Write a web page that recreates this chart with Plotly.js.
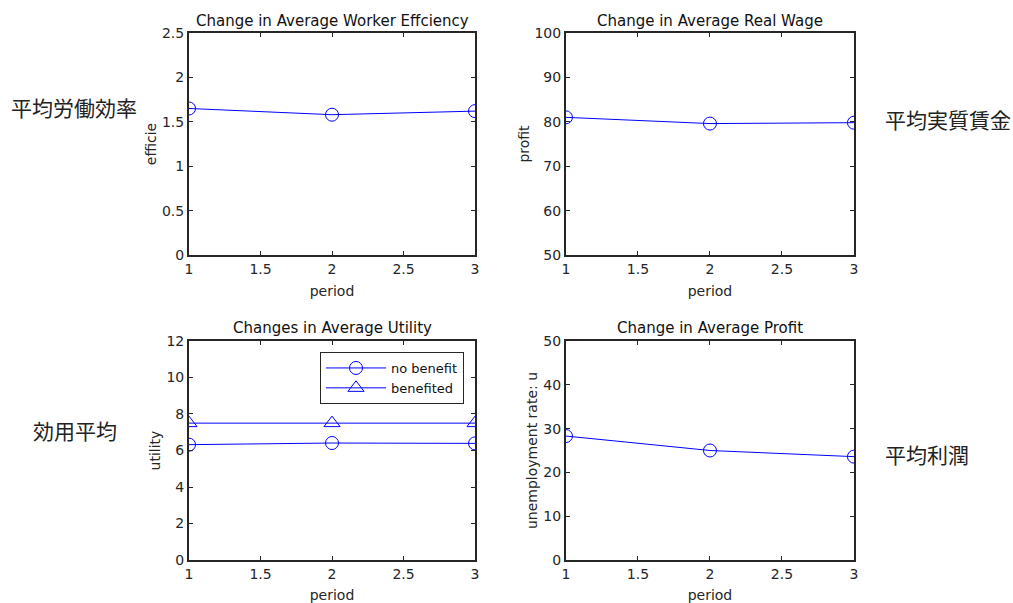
<!DOCTYPE html>
<html><head><meta charset="utf-8">
<script src="https://cdn.plot.ly/plotly-3.0.1.min.js"></script>
<style>html,body{margin:0;padding:0;background:#fff}#chart{width:1013px;height:603px}</style>
</head><body><div id="chart"></div>
<script>
const periods = [1, 2, 3];
const efficiency = [1.65, 1.58, 1.62];
const realWage = [81.0, 79.6, 79.8];
const utilityNoBenefit = [6.32, 6.41, 6.39];
const utilityBenefited = [7.5, 7.5, 7.5];
const profit = [28.3, 25.0, 23.6];

const titles = ["Change in Average Worker Effciency", "Change in Average Real Wage", "Changes in Average Utility", "Change in Average Profit"];
const yTitles = ["efficie", "profit", "utility", "unemployment rate: u"];
const xTitle = "period";
const legendNames = ["no benefit", "benefited"];
const sideLabels = ["平均労働効率", "平均実質賃金", "効用平均", "平均利潤"];

const blue = '#0000ff';
const font = "'DejaVu Sans', 'Noto Sans', sans-serif";
const cjk = "'Noto Sans CJK JP', sans-serif";

function tr(y, xa, ya, sym, name, show) {
  return {x: periods, y: y, xaxis: xa, yaxis: ya, type: 'scatter', mode: 'lines+markers',
    name: name || '', showlegend: !!show,
    line: {color: blue, width: 1},
    marker: {symbol: sym, size: sym === 'circle-open' ? 13 : 14, color: blue, line: {color: blue, width: 1}}};
}
const data = [
  tr(efficiency, 'x', 'y', 'circle-open'),
  tr(realWage, 'x2', 'y2', 'circle-open'),
  tr(utilityNoBenefit, 'x3', 'y3', 'circle-open', legendNames[0], true),
  tr(utilityBenefited, 'x3', 'y3', 'triangle-up-open', legendNames[1], true),
  tr(profit, 'x4', 'y4', 'circle-open')
];

const xd = [[0.1866, 0.4689], [0.5587, 0.8430]];
const yd = [[0.5771, 0.9453], [0.0713, 0.4345]];
const yr = [[0, 2.5], [50, 100], [0, 12], [0, 50]];
const ydt = [0.5, 10, 2, 10];

function xax(i, anchor) {
  return {domain: xd[i % 2], anchor: anchor, range: [1, 3], dtick: 0.5, tick0: 1,
    showgrid: false, zeroline: false, showline: true, mirror: 'ticks', linecolor: '#262626', linewidth: 2,
    ticks: 'inside', ticklen: 4, tickcolor: '#262626', tickwidth: 1,
    tickfont: {family: font, size: 14, color: '#262626'},
    title: {text: xTitle, font: {family: font, size: 14, color: '#262626'}, standoff: 10}, automargin: false};
}
function yax(i, anchor) {
  return {domain: yd[Math.floor(i / 2)], anchor: anchor, range: yr[i], dtick: ydt[i], tick0: 0,
    showgrid: false, zeroline: false, showline: true, mirror: 'ticks', linecolor: '#262626', linewidth: 2,
    ticks: 'inside', ticklen: 4, tickcolor: '#262626', tickwidth: 1,
    tickfont: {family: font, size: 14, color: '#262626'},
    title: {text: yTitles[i], font: {family: font, size: 14, color: '#262626'}, standoff: 2}, automargin: false};
}

const annotations = [];
const titlePos = [[332, 21], [710, 21], [332, 328], [710, 328]];
titles.forEach((t, i) => annotations.push({text: t, xref: 'paper', yref: 'paper',
  x: titlePos[i][0] / 1013, y: 1 - titlePos[i][1] / 603, showarrow: false,
  font: {family: font, size: 15, color: '#111'}, xanchor: 'center', yanchor: 'middle'}));
const sidePos = [[9, 107], [883, 119], [31, 430], [883, 454]];
sideLabels.forEach((t, i) => annotations.push({text: t, xref: 'paper', yref: 'paper',
  x: sidePos[i][0] / 1013, y: 1 - sidePos[i][1] / 603, showarrow: false,
  font: {family: cjk, size: 21, color: '#222'}, xanchor: 'left', yanchor: 'middle'}));

const layout = {
  width: 1013, height: 603, margin: {l: 0, r: 0, t: 0, b: 0},
  paper_bgcolor: '#fff', plot_bgcolor: '#fff',
  font: {family: font, color: '#262626'},
  xaxis: xax(0, 'y'), yaxis: yax(0, 'x'),
  xaxis2: xax(1, 'y2'), yaxis2: yax(1, 'x2'),
  xaxis3: xax(2, 'y3'), yaxis3: yax(2, 'x3'),
  xaxis4: xax(3, 'y4'), yaxis4: yax(3, 'x4'),
  showlegend: true,
  legend: {x: 464 / 1013, y: 1 - 352 / 603, xanchor: 'right', yanchor: 'top',
    bgcolor: '#fff', bordercolor: '#262626', borderwidth: 1,
    font: {family: font, size: 13, color: '#111'}, tracegroupgap: 0, itemwidth: 60},
  annotations: annotations
};
Plotly.newPlot('chart', data, layout, {displayModeBar: false, staticPlot: true});
</script></body></html>
